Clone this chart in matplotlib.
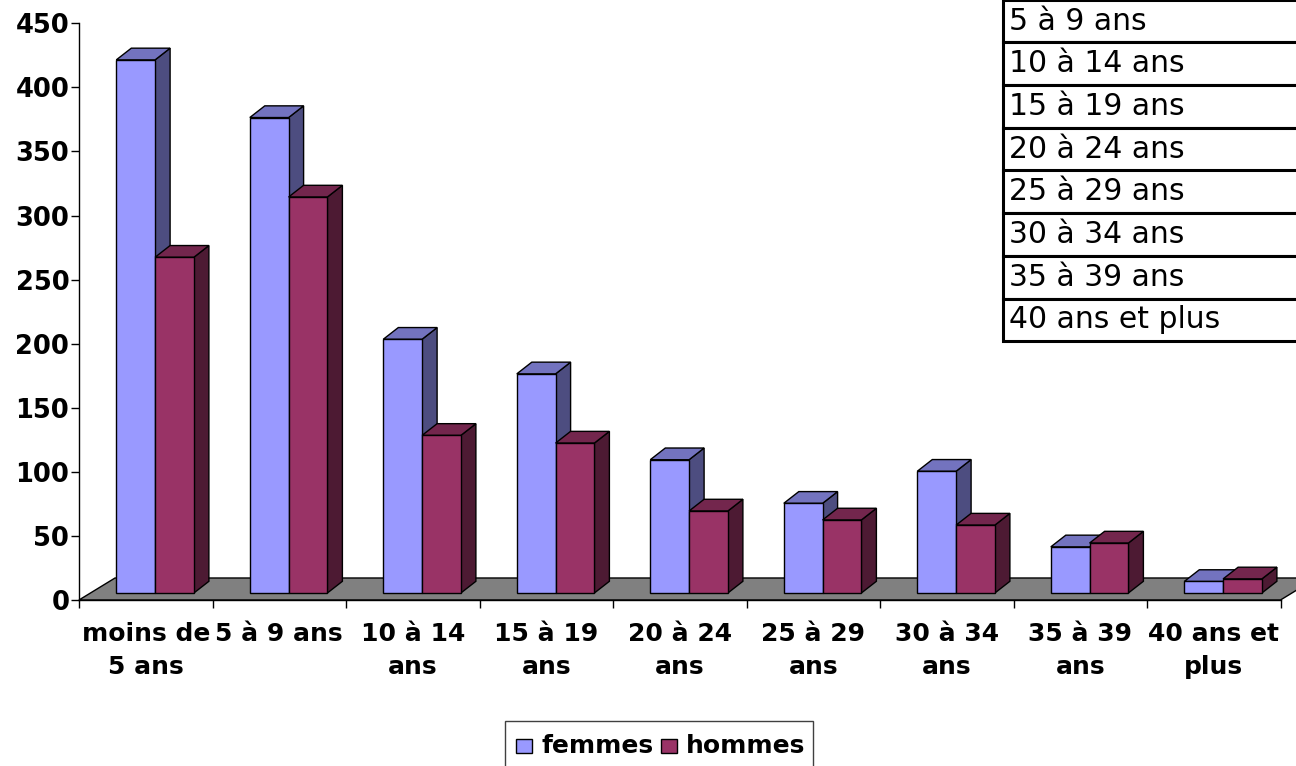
import matplotlib.pyplot as plt
from matplotlib.patches import Polygon, Rectangle

W, H = 1296, 766

# age groups (axis labels) and counts per group
labels = ['moins de\n5 ans', '5 à 9 ans', '10 à 14\nans', '15 à 19\nans',
          '20 à 24\nans', '25 à 29\nans', '30 à 34\nans', '35 à 39\nans',
          '40 ans et\nplus']
femmes = [416, 371, 198, 171, 104, 70, 95, 36, 9]
hommes = [262, 309, 123, 117, 64, 57, 53, 39, 11]
series = ['femmes', 'hommes']

# side table of age groups (top row falls outside the figure)
table_rows = ['5 à 9 ans', '10 à 14 ans', '15 à 19 ans', '20 à 24 ans',
              '25 à 29 ans', '30 à 34 ans', '35 à 39 ans', '40 ans et plus']

front = ['#9999FF', '#993366']
top = ['#7373BF', '#73264D']
side = ['#4D4D80', '#4D1A33']

fig = plt.figure(figsize=(W / 100, H / 100), dpi=100)
ax = fig.add_axes([79 / W, 166 / H, 1201.5 / W, 576.7 / H])
ax.set_xlim(0, 9)
ax.set_ylim(0, 450)

# floor
fdx, fdy = 0.2697, 17.17
ax.add_patch(Polygon([(0, 0), (9, 0), (9 + fdx, fdy), (fdx, fdy)], closed=True,
                     facecolor='#808080', edgecolor='black', lw=1,
                     clip_on=False, zorder=1))

# bars: front face, top face, side face
base = 5.46
bw = 0.2906
bdx, bdy = 0.1124, 9.13
for i in range(len(labels)):
    for j, vals in enumerate([femmes, hommes]):
        x0 = i + 0.2794 + j * bw
        y1 = base + vals[i]
        sd = Polygon([(x0 + bw, base), (x0 + bw + bdx, base + bdy),
                      (x0 + bw + bdx, y1 + bdy), (x0 + bw, y1)], closed=True,
                     facecolor=side[j], edgecolor='black', lw=1, clip_on=False, zorder=2)
        tp = Polygon([(x0, y1), (x0 + bw, y1), (x0 + bw + bdx, y1 + bdy),
                      (x0 + bdx, y1 + bdy)], closed=True,
                     facecolor=top[j], edgecolor='black', lw=1, clip_on=False, zorder=2)
        fr = Rectangle((x0, base), bw, vals[i], facecolor=front[j],
                       edgecolor='black', lw=1, clip_on=False, zorder=2)
        ax.add_patch(sd)
        ax.add_patch(tp)
        ax.add_patch(fr)

for s in ['top', 'right']:
    ax.spines[s].set_visible(False)
ax.spines['left'].set_linewidth(1)
ax.spines['bottom'].set_linewidth(1)
ax.spines['bottom'].set_zorder(3)

ax.set_yticks(range(0, 451, 50))
ax.tick_params(axis='y', length=6, width=1, pad=1, labelsize=18.5)
for t in ax.get_yticklabels():
    t.set_fontweight('bold')
ax.set_xticks(range(0, 10))
ax.set_xticklabels([])
ax.tick_params(axis='x', length=6, width=1)

for i, lab in enumerate(labels):
    ax.text(i + 0.5, -17, lab, ha='center', va='top', fontsize=18,
            fontweight='bold', linespacing=1.5)


def fx(x):
    return x / W


def fy(y):
    return 1 - y / H


# table at top right
row_h = 42.7
for k, name in enumerate(table_rows):
    y_top = -0.3 + k * row_h
    fig.patches.append(Rectangle((fx(1003), fy(y_top + row_h)), fx(1320) - fx(1003),
                                 row_h / H, transform=fig.transFigure,
                                 facecolor='white', edgecolor='black', lw=2.2))
    fig.text(fx(1009), fy(y_top + row_h / 2), name, fontsize=21.5,
             ha='left', va='center')

# legend
fig.patches.append(Rectangle((fx(505), fy(775)), fx(813) - fx(505), 54.3 / H,
                             transform=fig.transFigure, facecolor='white',
                             edgecolor='#404040', lw=1))
for j, (name, sx, tx) in enumerate(zip(series, [516, 661], [541.5, 686])):
    fig.patches.append(Rectangle((fx(sx), fy(753)), 16 / W, 14 / H,
                                 transform=fig.transFigure, facecolor=front[j],
                                 edgecolor='black', lw=1))
    fig.text(fx(tx), fy(753), name, fontsize=18, fontweight='bold',
             ha='left', va='baseline')

plt.savefig('out.png', dpi=100)
